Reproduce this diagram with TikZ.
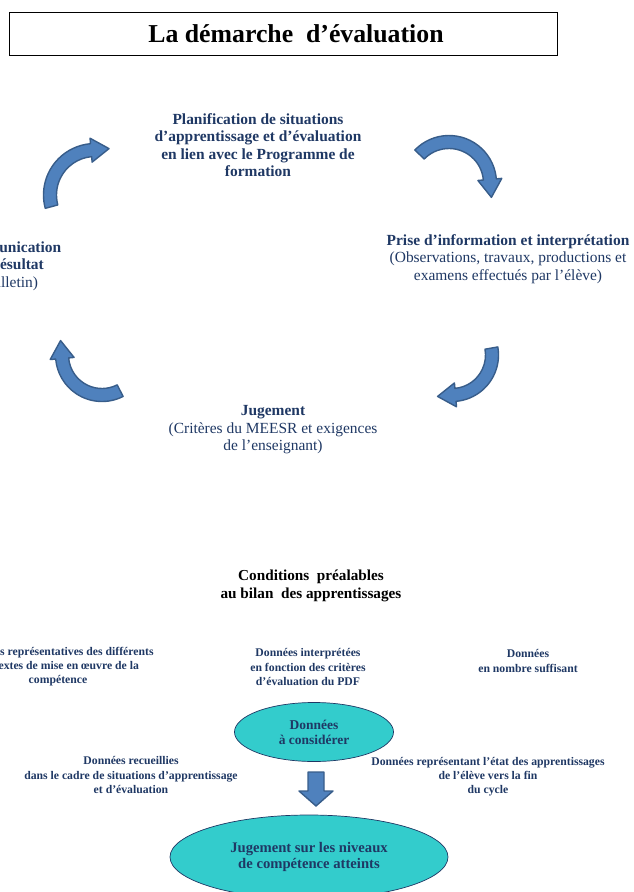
\documentclass[tikz,border=0pt]{standalone}
\usepackage{fontspec}
\setmainfont{Liberation Serif}
\usetikzlibrary{shapes.geometric}
\definecolor{bleutexte}{RGB}{31,56,100}
\definecolor{bleufleche}{RGB}{79,129,189}
\definecolor{bordfleche}{RGB}{56,93,138}
\definecolor{turquoise}{RGB}{51,204,204}
\tikzset{
  etape/.style={font=\fontsize{13.2}{15}\selectfont, text=bleutexte, align=center, inner sep=0pt},
  donnee/.style={font=\fontsize{10}{12}\selectfont\bfseries, text=bleutexte, align=center, inner sep=0pt},
  fleche/.style={fill=bleufleche, draw=bordfleche, line width=1.2pt, line join=round},
  bulle/.style={ellipse, fill=turquoise, draw=bleutexte, line width=0.6pt, inner sep=0pt, align=center, text=bleutexte},
}
% fleche courbe : centre x, centre y, rayon, angle depart, angle arrivee
\newcommand{\flechecourbe}[5]{%
  \draw[fleche, shift={(#1,#2)}] ({#4}:{#3+6.5}) arc[start angle=#4, end angle=#5, radius=#3+6.5]
    -- ({#5}:{#3+12}) -- ({#3*cos(#5)+18*sin(#5)},{#3*sin(#5)-18*cos(#5)})
    -- ({#5}:{#3-12}) -- ({#5}:{#3-6.5}) arc[start angle=#5, end angle=#4, radius=#3-6.5] -- cycle;}
\begin{document}
\begin{tikzpicture}[x=0.03cm, y=0.03cm]
  \useasboundingbox (0,0) rectangle (633,-892);
  \clip (0,0) rectangle (633,-892);
  % titre
  \draw[line width=0.6pt] (9,-12) rectangle (557,-55);
  \node[font=\fontsize{22}{26}\selectfont\bfseries, inner sep=0pt] (titre) at (296,-34) {La démarche\ \ d’évaluation};
  % le cycle
  \node[etape, font=\fontsize{13.2}{15}\selectfont\bfseries] (planif) at (258,-145)
    {Planification de situations\\d’apprentissage et d’évaluation\\en lien avec le Programme de\\formation};
  \node[etape] (prise) at (508,-259)
    {\textbf{Prise d’information et interprétation}\\(Observations, travaux, productions et\\examens effectués par l’élève)};
  \node[etape] (jugement) at (273,-430)
    {\textbf{Jugement}\\(Critères du MEESR et exigences\\de l’enseignant)};
  \node[etape] (commun) at (8,-266)
    {\textbf{Communication}\\\textbf{du résultat}\\(Bulletin)};
  \flechecourbe{95}{-195}{45}{195}{95}
  \flechecourbe{449}{-183}{41}{136}{5}
  \flechecourbe{102}{-355}{40}{297}{185}
  \flechecourbe{452}{-355}{40}{10}{-85}
  % conditions prealables
  \node[font=\fontsize{13}{15.5}\selectfont\bfseries, align=center, inner sep=0pt] (conditions) at (311,-586)
    {Conditions\ \ préalables\\au bilan\ \ des apprentissages};
  \node[donnee] (contextes) at (58,-667)
    {Données représentatives des différents\\contextes de mise en œuvre de la\\compétence};
  \node[donnee] (criteres) at (308,-667)
    {Données interprétées\\en fonction des critères\\d’évaluation du PDF};
  \node[donnee] (nombre) at (528,-661) {Données\\en nombre suffisant};
  \node[bulle, minimum width=4.77cm, minimum height=1.77cm, font=\fontsize{11.5}{13}\selectfont\bfseries] (considerer) at (314,-732)
    {Données\\à considérer};
  \node[donnee] (recueillies) at (131,-775)
    {Données recueillies\\dans le cadre de situations d’apprentissage\\et d’évaluation};
  \node[donnee] (etat) at (488,-777)
    {Données représentant l’état des apprentissages\\de l’élève vers la fin\\du cycle};
  \draw[fleche] (308,-772) -- (324,-772) -- (324,-791) -- (333,-791) -- (316,-806)
    -- (299,-791) -- (308,-791) -- cycle;
  \node[bulle, minimum width=8.34cm, minimum height=2.52cm, font=\fontsize{12.5}{14}\selectfont\bfseries] (niveaux) at (309,-857)
    {Jugement sur les niveaux\\de compétence atteints};
\end{tikzpicture}
\end{document}
